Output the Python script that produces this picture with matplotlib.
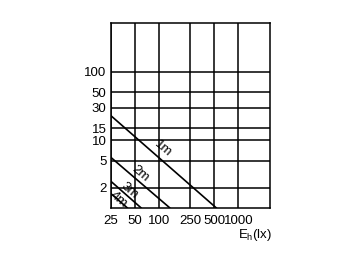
import matplotlib
matplotlib.use("Agg")
import matplotlib.pyplot as plt
from matplotlib.ticker import FixedLocator, FixedFormatter, NullLocator

plt.rcParams['font.family'] = ['Liberation Sans', 'DejaVu Sans']
plt.rcParams['mathtext.fontset'] = 'custom'
plt.rcParams['mathtext.rm'] = 'Liberation Sans'

# axis ticks
x_ticks = [25, 50, 100, 250, 500, 1000]
y_ticks = [2, 5, 10, 15, 30, 50, 100]

# distance lines: start at left edge, end at bottom edge
line_names = ["1m", "2m", "3m", "4m"]
x_start = [25, 25, 25, 25]
y_start = [22.9, 5.6, 2.5, 1.65]
x_end = [536, 140, 61, 41]
y_end = [1, 1, 1, 1]

# label positions for each line
label_x = [114, 58.3, 42.4, 31.2]
label_y = [7.5, 3.21, 1.82, 1.33]

fig = plt.figure(figsize=(3.6, 2.62), dpi=100)
ax = fig.add_axes([0.3075, 0.205, 0.4425, 0.7084])

ax.set_xscale('log')
ax.set_yscale('log')
ax.set_xlim(25, 2500)
ax.set_ylim(1, 525)

for xs, ys, xe, ye in zip(x_start, y_start, x_end, y_end):
    ax.plot([xs, xe], [ys, ye], color='black', lw=1.2, solid_capstyle='butt')

for name, lx, ly in zip(line_names, label_x, label_y):
    ax.text(lx, ly, name, rotation=-40.5, ha='center', va='center',
            fontsize=9.5, rotation_mode='anchor')

ax.xaxis.set_major_locator(FixedLocator(x_ticks))
ax.xaxis.set_major_formatter(FixedFormatter([str(v) for v in x_ticks]))
ax.xaxis.set_minor_locator(NullLocator())
ax.yaxis.set_major_locator(FixedLocator(y_ticks))
ax.yaxis.set_major_formatter(FixedFormatter([str(v) for v in y_ticks]))
ax.yaxis.set_minor_locator(NullLocator())

ax.tick_params(length=0, labelsize=9.5)
ax.tick_params(axis='x', pad=5)
ax.tick_params(axis='y', pad=3)
ax.grid(True, color='black', lw=1.1)
for sp in ax.spines.values():
    sp.set_linewidth(1.1)

fig.text(272 / 360, 1 - 235 / 262, r'E$_\mathrm{h}$(lx)', ha='right', va='center',
         fontsize=9.5)

fig.savefig("out.png", dpi=100)
